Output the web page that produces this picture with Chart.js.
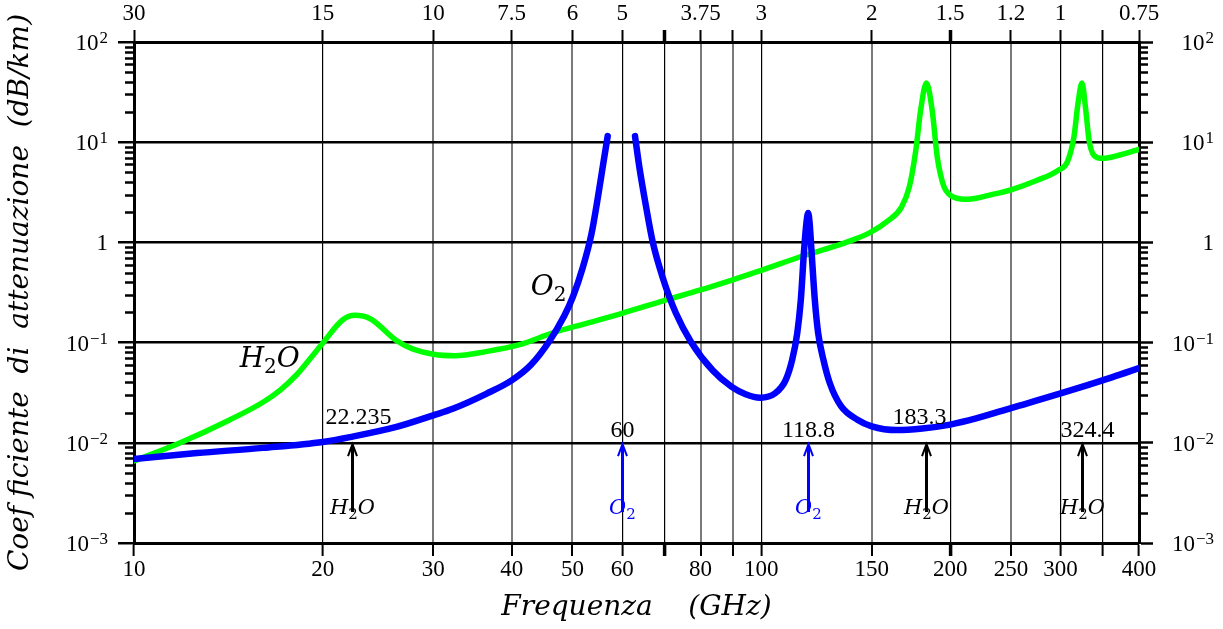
<!DOCTYPE html>
<html>
<head>
<meta charset="utf-8">
<script src="https://cdn.jsdelivr.net/npm/chart.js@4/dist/chart.umd.min.js"></script>
<style>
  html, body { margin: 0; padding: 0; background: #ffffff; }
  #wrap { width: 1223px; height: 629px; }
</style>
</head>
<body>
<div id="wrap"><canvas id="c" width="1223" height="629"></canvas></div>
<script>
// Frequency axis ticks (GHz) and the matching wavelength labels (mm) on the top axis
const freqTicks = [10, 20, 30, 40, 50, 60, 70, 80, 90, 100, 150, 200, 250, 300, 350, 400];
const freqTickLabels = ['10', '20', '30', '40', '50', '60', '', '80', '', '100', '150', '200', '250', '300', '', '400'];
const wavelengthTickLabels = ['30', '15', '10', '7.5', '6', '5', '', '3.75', '', '3', '2', '1.5', '1.2', '1', '', '0.75'];
const greyGridFreqs = [30, 40, 50, 80, 90, 150, 250];
const heavyTickFreqs = [70, 200];

// Attenuation axis decades (dB/km)
const attenTicks = [1e-3, 1e-2, 1e-1, 1, 10, 100];

// Water vapour attenuation
const h2oFreq = [10, 11.8, 14.2, 16.1, 17.1, 18.15, 19.2, 20, 21.5, 22.5, 23.8, 26.2, 27.8, 30, 32.5, 36.4, 41.2, 46.5, 52.5, 60, 70, 80, 90, 100, 117, 130, 140, 149, 159.3, 167.3, 172.2, 176.3, 179.5, 183.3, 187.2, 190.7, 193.1, 195.5, 199.1, 202.8, 207.9, 213.3, 221, 229.4, 250, 274, 296.7, 307.6, 315.1, 319.8, 324.4, 329, 333, 339, 349.8, 374, 400];
const h2oAtten = [0.0066, 0.0099, 0.0169, 0.0257, 0.0336, 0.0475, 0.0723, 0.099, 0.168, 0.187, 0.173, 0.105, 0.0865, 0.0766, 0.074, 0.0813, 0.0953, 0.125, 0.155, 0.196, 0.263, 0.335, 0.423, 0.525, 0.74, 0.90, 1.06, 1.25, 1.65, 2.25, 3.6, 8.3, 21, 39, 21, 7.17, 4.71, 3.6, 3.04, 2.82, 2.71, 2.69, 2.77, 2.93, 3.35, 4.13, 5.2, 6.4, 11.4, 24.5, 39, 21, 10.5, 7.4, 6.9, 7.5, 8.5];

// Oxygen attenuation (the 60 GHz complex is left open above the plotted values)
const o2Freq = [10, 12.6, 16.06, 20, 22.1, 26.2, 30, 32.3, 36.5, 40, 42.9, 45.9, 48.5, 50.06, 51.9, 53.6, 54.9, 56.0, 56.9, 60, 62.9, 63.9, 65.5, 67.1, 69.6, 73.1, 77.3, 83.7, 89.6, 94.4, 99.6, 105.2, 109.3, 112.0, 114.1, 115.6, 117.0, 118.0, 118.75, 119.4, 120.2, 121.7, 123.2, 125.6, 128.6, 134, 142.3, 150, 164.3, 180.6, 200, 220, 250, 300, 363, 400];
const o2Atten = [0.0069, 0.0079, 0.0089, 0.0102, 0.0114, 0.0144, 0.0188, 0.022, 0.031, 0.042, 0.0597, 0.1026, 0.184, 0.285, 0.555, 1.21, 2.84, 6.2, 11.5, null, 11.5, 5.7, 2.28, 1.02, 0.45, 0.196, 0.101, 0.0526, 0.0363, 0.0305, 0.0282, 0.0312, 0.042, 0.0674, 0.1244, 0.266, 0.84, 1.56, 1.97, 1.56, 0.84, 0.266, 0.1244, 0.0674, 0.0393, 0.0232, 0.017, 0.0146, 0.0134, 0.0139, 0.0152, 0.0175, 0.0222, 0.0311, 0.0453, 0.0556];

// Absorption lines marked with arrows
const lineFreqs = [22.235, 60, 118.8, 183.3, 324.4];
const lineLabels = ['22.235', '60', '118.8', '183.3', '324.4'];
const lineGas = ['H2O', 'O2', 'O2', 'H2O', 'H2O'];

const SERIF = '"Liberation Serif", "DejaVu Serif", serif';
const ITALIC = '"DejaVu Serif", serif';

function drawChem(ctx, main, x, baseline, size, color, align) {
  // italic letters with an upright subscript 2
  const big = 'italic ' + size + 'px ' + ITALIC;
  const small = Math.round(size * 0.7) + 'px ' + ITALIC;
  const parts = main === 'H2O'
    ? [['H', big, 0], ['2', small, size * 0.22], ['O', big, 0]]
    : [['O', big, 0], ['2', small, size * 0.22]];
  let w = 0;
  const widths = parts.map(p => { ctx.font = p[1]; const m = ctx.measureText(p[0]).width; w += m; return m; });
  let cx = align === 'center' ? x - w / 2 : x;
  ctx.fillStyle = color;
  ctx.textAlign = 'left';
  ctx.textBaseline = 'alphabetic';
  parts.forEach((p, i) => {
    ctx.font = p[1];
    ctx.fillText(p[0], cx, baseline + p[2]);
    cx += widths[i];
  });
}

function drawPower(ctx, value, xRight, y) {
  const exp = Math.round(Math.log10(value));
  const base = exp === 0 ? '1' : '10';
  const sup = exp === 0 ? '' : (exp < 0 ? '\u2212' + (-exp) : String(exp));
  ctx.textAlign = 'left';
  ctx.textBaseline = 'alphabetic';
  ctx.fillStyle = '#000';
  ctx.font = '23px ' + SERIF;
  const wb = ctx.measureText(base).width;
  ctx.font = '17px ' + SERIF;
  const ws = sup ? ctx.measureText(sup).width + 1 : 0;
  const x0 = xRight - wb - ws;
  ctx.font = '23px ' + SERIF;
  ctx.fillText(base, x0, y + 8);
  if (sup) {
    ctx.font = '17px ' + SERIF;
    ctx.fillText(sup, x0 + wb + 1, y + 1);
  }
}

const annotations = {
  id: 'annotations',
  afterDraw(chart, args, opts) {
    const ctx = chart.ctx;
    const xs = chart.scales.x, ys = chart.scales.y;
    const area = chart.chartArea;
    ctx.save();

    // minor decade ticks on both vertical axes
    ctx.strokeStyle = '#000';
    ctx.lineWidth = 2.5;
    for (let e = -3; e < 2; e++) {
      for (let k = 2; k <= 9; k++) {
        const py = Math.round(ys.getPixelForValue(k * Math.pow(10, e))) + 0.5;
        ctx.beginPath();
        ctx.moveTo(area.left - 9, py); ctx.lineTo(area.left, py);
        ctx.moveTo(area.right, py); ctx.lineTo(area.right + 9, py);
        ctx.stroke();
      }
    }

    // decade labels with exponents
    attenTicks.forEach(v => {
      const py = ys.getPixelForValue(v);
      drawPower(ctx, v, area.left - 26, py);
      drawPower(ctx, v, area.right + 75, py);
    });

    // spectral line arrows and labels
    lineFreqs.forEach((f, i) => {
      const px = Math.round(xs.getPixelForValue(f)) + 0.5;
      const yb = ys.getPixelForValue(opts.arrowFrom);
      const yt = ys.getPixelForValue(opts.arrowTo);
      const col = lineGas[i] === 'O2' ? '#0000ff' : '#000000';
      ctx.strokeStyle = col;
      ctx.lineCap = 'butt';
      ctx.lineWidth = 3;
      ctx.beginPath(); ctx.moveTo(px, yb); ctx.lineTo(px, yt + 2); ctx.stroke();
      ctx.lineWidth = 2;
      ctx.lineJoin = 'miter';
      ctx.beginPath(); ctx.moveTo(px - 4.5, yt + 12); ctx.lineTo(px, yt); ctx.lineTo(px + 4.5, yt + 12); ctx.stroke();

      ctx.fillStyle = '#000';
      ctx.font = '24px ' + SERIF;
      ctx.textAlign = 'center';
      ctx.textBaseline = 'alphabetic';
      ctx.fillText(lineLabels[i], px + opts.labelShift[i], ys.getPixelForValue(opts.labelAtten[i]));

      drawChem(ctx, lineGas[i], px, ys.getPixelForValue(opts.gasAtten), 21, col, 'center');
    });

    // curve names
    drawChem(ctx, 'H2O', xs.getPixelForValue(opts.h2oName[0]), ys.getPixelForValue(opts.h2oName[1]), 28, '#000', 'left');
    drawChem(ctx, 'O2', xs.getPixelForValue(opts.o2Name[0]), ys.getPixelForValue(opts.o2Name[1]), 28, '#000', 'left');

    ctx.restore();
  }
};

const setFreqTicks = s => { s.ticks = freqTicks.map(v => ({ value: v })); };
const setAttenTicks = s => { s.ticks = attenTicks.map(v => ({ value: v })); };
const tickFont = { family: SERIF, size: 23 };

new Chart(document.getElementById('c'), {
  type: 'line',
  data: {
    datasets: [
      {
        label: 'O2',
        data: o2Freq.map((f, i) => ({ x: f, y: o2Atten[i] })),
        borderColor: '#0000ff',
        borderWidth: 6.5,
        pointRadius: 0,
        cubicInterpolationMode: 'monotone',
        borderCapStyle: 'round',
        borderJoinStyle: 'round',
        spanGaps: false,
        fill: false
      },
      {
        label: 'H2O',
        data: h2oFreq.map((f, i) => ({ x: f, y: h2oAtten[i] })),
        borderColor: '#00ff00',
        borderWidth: 5.5,
        pointRadius: 0,
        cubicInterpolationMode: 'monotone',
        borderCapStyle: 'round',
        borderJoinStyle: 'round',
        fill: false
      }
    ]
  },
  options: {
    responsive: false,
    animation: false,
    devicePixelRatio: 1,
    layout: { padding: 0 },
    plugins: {
      legend: { display: false },
      tooltip: { enabled: false },
      annotations: {
        arrowFrom: 0.00204,
        arrowTo: 0.0097,
        labelAtten: [0.0155, 0.01143, 0.01143, 0.0155, 0.01143],
        labelShift: [6, 0, 0, -7, 5],
        gasAtten: 0.00193,
        h2oName: [14.74, 0.0571],
        o2Name: [42.9, 0.2985]
      }
    },
    scales: {
      x: {
        type: 'logarithmic',
        position: 'bottom',
        min: 10, max: 400,
        afterBuildTicks: setFreqTicks,
        afterFit: s => { s.height = 86; },
        ticks: {
          autoSkip: false, maxRotation: 0, minRotation: 0,
          font: tickFont, color: '#000', padding: 0,
          callback: (v, i) => freqTickLabels[i]
        },
        grid: {
          color: c => greyGridFreqs.includes(c.tick.value) ? '#7a7a7a' : '#000',
          lineWidth: c => greyGridFreqs.includes(c.tick.value) ? 2 : 1.2,
          tickColor: '#000',
          tickWidth: c => heavyTickFreqs.includes(c.tick.value) ? 3.5 : 2,
          tickLength: 13
        },
        border: { color: '#000', width: 3 },
        title: {
          display: true,
          text: 'Frequenza    (GHz)',
          font: { family: ITALIC, size: 28, style: 'italic' },
          color: '#000',
          padding: { top: 0, bottom: 4 }
        }
      },
      x2: {
        type: 'logarithmic',
        position: 'top',
        min: 10, max: 400,
        afterBuildTicks: setFreqTicks,
        afterFit: s => { s.height = 42; },
        ticks: {
          autoSkip: false, maxRotation: 0, minRotation: 0,
          font: tickFont, color: '#000', padding: 2,
          callback: (v, i) => wavelengthTickLabels[i]
        },
        grid: {
          drawOnChartArea: false,
          tickColor: '#000',
          tickWidth: c => heavyTickFreqs.includes(c.tick.value) ? 3.5 : 2,
          tickLength: 12
        },
        border: { color: '#000', width: 3 }
      },
      y: {
        type: 'logarithmic',
        position: 'left',
        min: 1e-3, max: 1e2,
        afterBuildTicks: setAttenTicks,
        afterFit: s => { s.width = 134; },
        ticks: { display: false, autoSkip: false },
        grid: {
          color: '#000',
          lineWidth: 2.5,
          tickColor: '#000',
          tickWidth: 2.5,
          tickLength: 16
        },
        border: { color: '#000', width: 3 },
        title: {
          display: true,
          text: 'Coef ficiente  di  attenuazione  (dB/km)',
          font: { family: ITALIC, size: 28, style: 'italic' },
          color: '#000',
          padding: { top: 4, bottom: 0 }
        }
      },
      yR: {
        type: 'logarithmic',
        position: 'right',
        min: 1e-3, max: 1e2,
        afterBuildTicks: setAttenTicks,
        afterFit: s => { s.width = 84; },
        ticks: { display: false, autoSkip: false },
        grid: {
          drawOnChartArea: false,
          tickColor: '#000',
          tickWidth: 2.5,
          tickLength: 14
        },
        border: { color: '#000', width: 3 }
      }
    }
  },
  plugins: [annotations]
});
</script>
</body>
</html>
